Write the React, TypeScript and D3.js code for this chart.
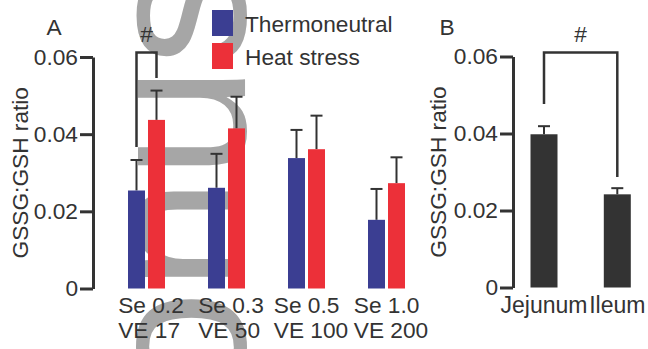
import { useEffect, useRef } from "react"
import * as d3 from "d3"

// panel A: diet groups
const seLabels = ["Se 0.2", "Se 0.3", "Se 0.5", "Se 1.0"]
const veLabels = ["VE 17", "VE 50", "VE 100", "VE 200"]
const seriesKeys = ["Thermoneutral", "Heat stress"]
const thermoMeans = [0.0254, 0.0261, 0.0338, 0.0178]
const thermoErr = [0.0079, 0.0088, 0.0073, 0.008]
const heatMeans = [0.0437, 0.0415, 0.0361, 0.0273]
const heatErr = [0.0076, 0.0082, 0.0087, 0.0067]

// panel B: intestinal region
const regions = ["Jejunum", "Ileum"]
const regionMeans = [0.0398, 0.0242]
const regionErr = [0.0021, 0.0016]

const yTicks = [0, 0.02, 0.04, 0.06]

const BLUE = "#3b3e92"
const RED = "#ec3039"
const DARK = "#333333"
const FONT = "'Liberation Sans', Arial, sans-serif"
const FS = 22.7

export default function App() {
    const ref = useRef<SVGSVGElement>(null)

    useEffect(() => {
        const svg = d3.select(ref.current)
        svg.selectAll("*").remove()

        // watermark behind everything
        svg.append("text")
            .attr("transform", "translate(245,-35) rotate(-90)")
            .attr("text-anchor", "end")
            .attr("font-family", FONT)
            .attr("font-size", 202)
            .attr("fill", "#a6a6a6")
            .text("Bonus")

        const fmt = (d: number) => (d === 0 ? "0" : d3.format(".2f")(d))

        const drawAxis = (g: any) => {
            g.selectAll("path.domain").attr("stroke", DARK).attr("stroke-width", 3)
            g.selectAll(".tick line").attr("stroke", DARK).attr("stroke-width", 3)
            g.selectAll(".tick text")
                .attr("fill", DARK)
                .attr("font-size", FS)
                .attr("font-family", FONT)
        }

        // ---------- Panel A ----------
        const yA = d3.scaleLinear().domain([0, 0.06]).range([288.5, 57])
        const xA = d3.scaleBand().domain(seLabels).range([106.5, 426.5])
        const xInner = d3.scaleBand().domain(seriesKeys).range([-18.5, 18.5]).paddingInner(0.15)

        const gA = svg.append("g")
        gA.append("g")
            .attr("transform", "translate(93,0)")
            .call(d3.axisLeft(yA).tickValues(yTicks).tickFormat(fmt as any).tickSize(13).tickSizeOuter(0).tickPadding(2))
            .call(drawAxis)

        gA.append("text")
            .attr("transform", `translate(28,${(57 + 288.5) / 2}) rotate(-90)`)
            .attr("text-anchor", "middle")
            .attr("font-size", FS)
            .attr("font-family", FONT)
            .attr("fill", DARK)
            .text("GSSG:GSH ratio")

        gA.append("text")
            .attr("x", 54).attr("y", 35)
            .attr("text-anchor", "middle")
            .attr("font-size", FS)
            .attr("font-family", FONT)
            .attr("fill", DARK)
            .text("A")

        const rows = seLabels.map((s, i) => ({
            s,
            vals: [
                { key: seriesKeys[0], v: thermoMeans[i], e: thermoErr[i], c: BLUE },
                { key: seriesKeys[1], v: heatMeans[i], e: heatErr[i], c: RED }
            ]
        }))

        const grp = gA.selectAll("g.grp")
            .data(rows)
            .join("g")
            .attr("class", "grp")
            .attr("transform", d => `translate(${(xA(d.s) ?? 0) + xA.bandwidth() / 2},0)`)

        grp.selectAll("line.err")
            .data(d => d.vals)
            .join("line")
            .attr("x1", d => (xInner(d.key) ?? 0) + xInner.bandwidth() / 2)
            .attr("x2", d => (xInner(d.key) ?? 0) + xInner.bandwidth() / 2)
            .attr("y1", d => yA(d.v))
            .attr("y2", d => yA(d.v + d.e))
            .attr("stroke", DARK)
            .attr("stroke-width", 2)
        grp.selectAll("line.cap")
            .data(d => d.vals)
            .join("line")
            .attr("x1", d => (xInner(d.key) ?? 0) + xInner.bandwidth() / 2 - 6)
            .attr("x2", d => (xInner(d.key) ?? 0) + xInner.bandwidth() / 2 + 6)
            .attr("y1", d => yA(d.v + d.e))
            .attr("y2", d => yA(d.v + d.e))
            .attr("stroke", DARK)
            .attr("stroke-width", 2)
        grp.selectAll("rect")
            .data(d => d.vals)
            .join("rect")
            .attr("x", d => xInner(d.key) ?? 0)
            .attr("width", xInner.bandwidth())
            .attr("y", d => yA(d.v))
            .attr("height", d => yA(0) - yA(d.v))
            .attr("fill", d => d.c)

        // two-line group labels, left aligned block
        seLabels.forEach((s, i) => {
            const cx = (xA(s) ?? 0) + xA.bandwidth() / 2 + 4.5
            const t = gA.append("text")
                .attr("font-size", FS)
                .attr("font-family", FONT)
                .attr("fill", DARK)
            const l1 = t.append("tspan").attr("y", 313).text(s)
            const l2 = t.append("tspan").attr("y", 338).text(veLabels[i])
            const w = Math.max(
                (l1.node() as any).getComputedTextLength(),
                (l2.node() as any).getComputedTextLength()
            )
            l1.attr("x", cx - w / 2)
            l2.attr("x", cx - w / 2)
        })

        // significance bracket A
        const bx1 = (xA(seLabels[0]) ?? 0) + 40 + (xInner(seriesKeys[0]) ?? 0) + xInner.bandwidth() / 2
        const bx2 = (xA(seLabels[0]) ?? 0) + 40 + (xInner(seriesKeys[1]) ?? 0) + xInner.bandwidth() / 2
        gA.append("path")
            .attr("d", `M${bx1},147V52.5H${bx2}V78`)
            .attr("fill", "none")
            .attr("stroke", DARK)
            .attr("stroke-width", 2.5)
        gA.append("text")
            .attr("x", (bx1 + bx2) / 2).attr("y", 42)
            .attr("text-anchor", "middle")
            .attr("font-size", FS)
            .attr("font-family", FONT)
            .attr("fill", DARK)
            .text("#")

        // legend
        const leg = gA.append("g").attr("transform", "translate(212,10)")
        leg.selectAll("rect")
            .data(seriesKeys)
            .join("rect")
            .attr("x", 0)
            .attr("y", (d, i) => i * 33)
            .attr("width", 21)
            .attr("height", 26)
            .attr("fill", (d, i) => (i === 0 ? BLUE : RED))
        leg.selectAll("text")
            .data(seriesKeys)
            .join("text")
            .attr("x", 33)
            .attr("y", (d, i) => 22 + i * 33)
            .attr("font-size", FS)
            .attr("font-family", FONT)
            .attr("fill", DARK)
            .text(d => d)

        // ---------- Panel B ----------
        const yB = d3.scaleLinear().domain([0, 0.06]).range([287.5, 56.5])
        const xB = d3.scalePoint().domain(regions).range([544, 617.3])
        const bw = 27

        const gB = svg.append("g")
        gB.append("g")
            .attr("transform", "translate(513,0)")
            .call(d3.axisLeft(yB).tickValues(yTicks).tickFormat(fmt as any).tickSize(13).tickSizeOuter(0).tickPadding(2))
            .call(drawAxis)

        gB.append("text")
            .attr("transform", `translate(446,${(56.5 + 287.5) / 2}) rotate(-90)`)
            .attr("text-anchor", "middle")
            .attr("font-size", FS)
            .attr("font-family", FONT)
            .attr("fill", DARK)
            .text("GSSG:GSH ratio")

        gB.append("text")
            .attr("x", 447).attr("y", 35)
            .attr("text-anchor", "middle")
            .attr("font-size", FS)
            .attr("font-family", FONT)
            .attr("fill", DARK)
            .text("B")

        const rowsB = regions.map((r, i) => ({ r, v: regionMeans[i], e: regionErr[i] }))
        gB.selectAll("line.err")
            .data(rowsB)
            .join("line")
            .attr("x1", d => xB(d.r) ?? 0)
            .attr("x2", d => xB(d.r) ?? 0)
            .attr("y1", d => yB(d.v))
            .attr("y2", d => yB(d.v + d.e))
            .attr("stroke", DARK)
            .attr("stroke-width", 2)
        gB.selectAll("line.cap")
            .data(rowsB)
            .join("line")
            .attr("x1", d => (xB(d.r) ?? 0) - 6)
            .attr("x2", d => (xB(d.r) ?? 0) + 6)
            .attr("y1", d => yB(d.v + d.e))
            .attr("y2", d => yB(d.v + d.e))
            .attr("stroke", DARK)
            .attr("stroke-width", 2)
        gB.selectAll("rect")
            .data(rowsB)
            .join("rect")
            .attr("x", d => (xB(d.r) ?? 0) - bw / 2)
            .attr("width", bw)
            .attr("y", d => yB(d.v))
            .attr("height", d => yB(0) - yB(d.v))
            .attr("fill", DARK)

        gB.selectAll("text.xl")
            .data(regions)
            .join("text")
            .attr("class", "xl")
            .attr("x", d => xB(d) ?? 0)
            .attr("y", 313)
            .attr("text-anchor", "middle")
            .attr("font-size", 23)
            .attr("font-family", FONT)
            .attr("fill", DARK)
            .text(d => d)

        const cx1 = xB(regions[0]) ?? 0
        const cx2 = xB(regions[1]) ?? 0
        gB.append("path")
            .attr("d", `M${cx1},104V52.5H${cx2}V177`)
            .attr("fill", "none")
            .attr("stroke", DARK)
            .attr("stroke-width", 2.5)
        gB.append("text")
            .attr("x", (cx1 + cx2) / 2).attr("y", 42)
            .attr("text-anchor", "middle")
            .attr("font-size", FS)
            .attr("font-family", FONT)
            .attr("fill", DARK)
            .text("#")
    }, [])

    return (
        <svg
            ref={ref}
            width={648}
            height={349}
            style={{ position: "absolute", left: 0, top: 0, background: "#fff" }}
        />
    )
}
